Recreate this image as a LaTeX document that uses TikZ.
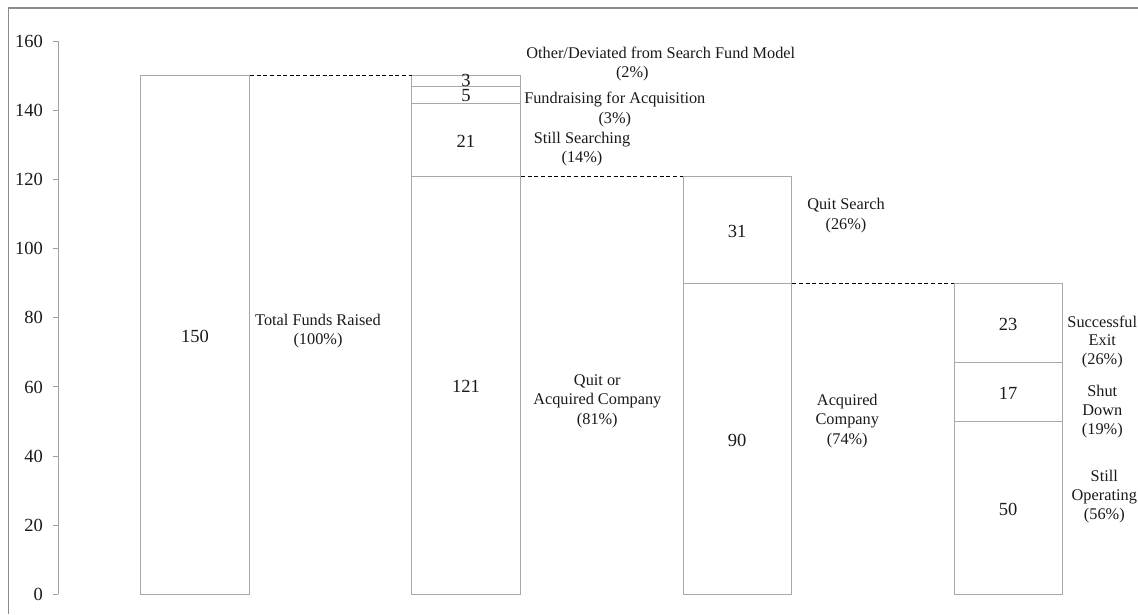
\documentclass[tikz,border=0pt]{standalone}
\usepackage{fontspec}
\setmainfont{Liberation Serif}
\definecolor{framec}{HTML}{8C8C8C}
\definecolor{axisc}{HTML}{A0A0A0}
\definecolor{barc}{HTML}{A8A8A8}
\definecolor{txt}{HTML}{1A1A1A}
\newcommand\barseg[4]{\node[seg, minimum height={(#4-#3)*3.456pt}] (#1) at (#2,{19.7+3.456*#3}) {};}
\begin{document}
\begin{tikzpicture}[x=1pt,y=1pt,
  seg/.style={draw=barc, fill=white, line width=1pt, inner sep=0pt, outer sep=0pt,
              minimum width=108.4pt, anchor=south west},
  num/.style={text=txt, font=\fontsize{18.5}{20}\selectfont, inner sep=0pt, yshift=-1.5pt},
  ticklab/.style={text=txt, font=\fontsize{18.5}{20}\selectfont, inner sep=0pt, anchor=east},
  lab/.style={text=txt, font=\fontsize{16.3}{19.5}\selectfont, align=center, inner sep=0pt},
  leader/.style={draw=black, line width=1pt, dash pattern=on 4pt off 2.6pt}]
\useasboundingbox (0,0) rectangle (1138,614);
\fill[white] (0,0) rectangle (1138,614);
% outer frame
\draw[framec, line width=1.1pt] (8.3,0) -- (8.3,606) -- (1138,606);
% axis
\draw[axisc, line width=1pt] (58.3,19.7) -- (58.3,{19.7+3.456*160});
\foreach \v in {0,20,...,160}{
  \draw[axisc, line width=1pt] (53,{19.7+3.456*\v}) -- (58.3,{19.7+3.456*\v});
  \node[ticklab] (t\v) at (43,{19.7+3.456*\v}) {\v};
}
% bar 1
\barseg{b1}{140.7}{0}{150}
% bar 2
\barseg{b2a}{411.7}{0}{121}
\barseg{b2b}{411.7}{121}{142}
\barseg{b2c}{411.7}{142}{147}
\barseg{b2d}{411.7}{147}{150}
% bar 3
\barseg{b3a}{683}{0}{90}
\barseg{b3b}{683}{90}{121}
% bar 4
\barseg{b4a}{954}{0}{50}
\barseg{b4b}{954}{50}{67}
\barseg{b4c}{954}{67}{90}
% numbers
\node[num] (n1) at (b1.center) {150};
\node[num] (n2a) at (b2a.center) {121};
\node[num] (n2b) at (b2b.center) {21};
\node[num, yshift=0.8pt] (n2c) at (b2c.center) {5};
\node[num, yshift=2pt] (n2d) at (b2d.center) {3};
\node[num] (n3a) at (b3a.center) {90};
\node[num] (n3b) at (b3b.center) {31};
\node[num] (n4a) at (b4a.center) {50};
\node[num] (n4b) at (b4b.center) {17};
\node[num] (n4c) at (b4c.center) {23};
% leaders
\draw[leader] ([xshift=1pt]b1.north east) -- (b2d.north west);
\draw[leader] ([xshift=1pt]b2a.north east) -- (b3b.north west);
\draw[leader] ([xshift=1pt]b3a.north east) -- (b4c.north west);
% labels
\node[lab] (lTotal) at (318,283) {Total Funds Raised\\(100\%)};
\node[lab] (lOther) at (660.8,560.7) {Other/Deviated from Search Fund Model};
\node[lab] (lOtherP) at (632.3,540.7) {(2\%)};
\node[lab] (lFund) at (614.8,504.7) {Fundraising for Acquisition\\(3\%)};
\node[lab] (lStill) at (582,464.7) {Still Searching\\(14\%)};
\node[lab] (lQuitAcq) at (597.3,213.1) {Quit or\\Acquired Company\\(81\%)};
\node[lab] (lQuit) at (846,398.5) {Quit Search\\(26\%)};
\node[lab] (lAcq) at (847.3,193) {Acquired\\Company\\(74\%)};
\node[lab, font=\fontsize{16.3}{18.5}\selectfont] (lExit) at (1102.3,272.3) {Successful\\Exit\\(26\%)};
\node[lab, font=\fontsize{16.3}{19}\selectfont] (lShut) at (1102.3,202) {Shut\\Down\\(19\%)};
\node[lab, font=\fontsize{16.3}{19}\selectfont] (lOper) at (1104.3,117) {Still\\Operating\\(56\%)};
\end{tikzpicture}
\end{document}
